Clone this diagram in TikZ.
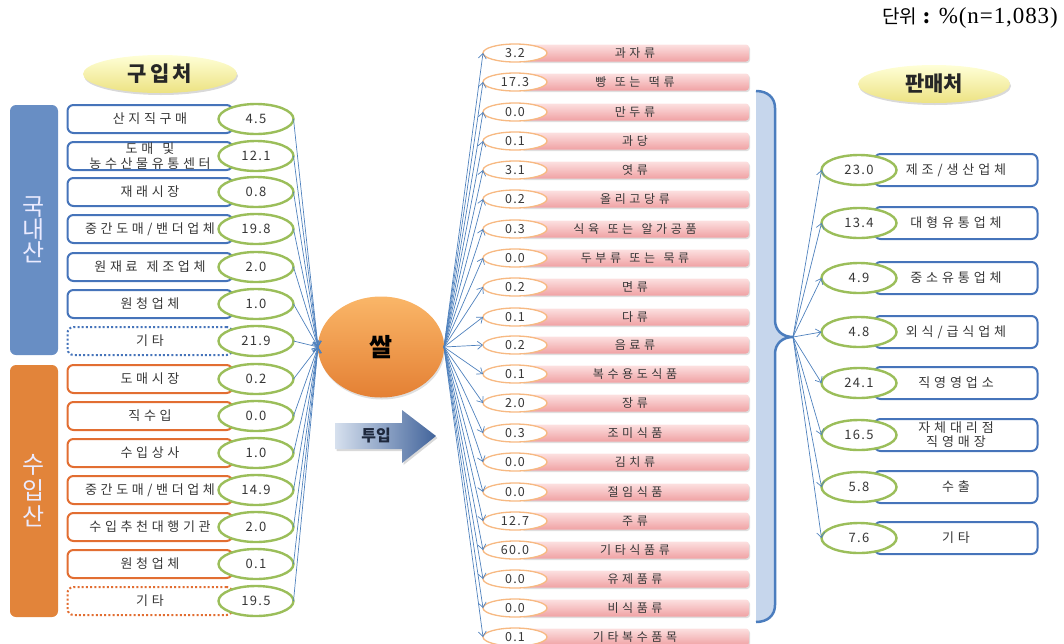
\documentclass[tikz,border=0pt]{standalone}
\usepackage{fontspec}
\setmainfont{Noto Sans CJK KR}
\newfontfamily\krbox[LetterSpace=28]{Noto Sans CJK KR}
\newfontfamily\krmid[LetterSpace=30]{Noto Sans CJK KR}
\newfontfamily\krright[LetterSpace=30]{Noto Sans CJK KR}
\newfontfamily\krnum[LetterSpace=10]{Noto Sans CJK KR}
\newfontfamily\krtitle[LetterSpace=15]{Noto Sans CJK KR}
\newfontfamily\serifen[LetterSpace=4]{Liberation Serif}
\newcommand\ws{\hspace{0.7em}}
\usetikzlibrary{arrows.meta,shapes.geometric,shadows}
\definecolor{barblue}{RGB}{104,142,196}
\definecolor{barorange}{RGB}{226,132,58}
\definecolor{boxblue}{RGB}{70,116,186}
\definecolor{boxorange}{RGB}{226,110,50}
\definecolor{numgreen}{RGB}{155,190,90}
\definecolor{arrblue}{RGB}{79,129,189}
\definecolor{txtgray}{RGB}{55,55,55}
\definecolor{pinktop}{RGB}{252,224,224}
\definecolor{pinkbot}{RGB}{240,162,164}
\definecolor{ellorange}{RGB}{247,185,130}
\definecolor{ricetop}{RGB}{250,182,104}
\definecolor{ricebot}{RGB}{228,128,52}
\definecolor{brfill}{RGB}{198,214,236}
\definecolor{broutline}{RGB}{75,125,190}
\definecolor{ytop}{RGB}{255,255,215}
\definecolor{ybot}{RGB}{236,226,130}
\definecolor{arrlight}{RGB}{214,224,238}
\definecolor{arrdark}{RGB}{66,100,155}
\begin{document}
\begin{tikzpicture}[x=1pt,y=-1pt,
  bluebox/.style={draw=boxblue, line width=2pt, rounded corners=6pt, fill=white,
    minimum width=165pt, minimum height=28pt, inner sep=0pt, align=center,
    font=\krbox\fontsize{13}{14.5}\selectfont, text=txtgray},
  orangebox/.style={bluebox, draw=boxorange},
  dotbox/.style={dash pattern=on 2pt off 2.2pt},
  gnum/.style={ellipse, draw=numgreen, line width=2.4pt, fill=white,
    minimum width=75pt, minimum height=30pt, inner sep=0pt, outer sep=0pt,
    font=\krnum\fontsize{13}{14}\selectfont, text=txtgray},
  pinkbar/.style={rectangle, rounded corners=3pt, minimum width=228pt, minimum height=17pt,
    top color=pinktop, bottom color=pinkbot, inner sep=0pt,
    drop shadow={opacity=0.25, shadow xshift=1pt, shadow yshift=-1.5pt},
    font=\krmid\fontsize{12}{13}\selectfont, text=txtgray},
  onum/.style={ellipse, draw=ellorange, line width=1.3pt, fill=white,
    minimum width=64pt, minimum height=18pt, inner sep=0pt, outer sep=0pt,
    font=\krnum\fontsize{12.5}{13}\selectfont, text=txtgray},
  rbox/.style={draw=boxblue, line width=2pt, rounded corners=6pt, fill=white,
    minimum width=163pt, minimum height=32pt, inner sep=0pt, align=center,
    font=\krright\fontsize{13}{14}\selectfont, text=txtgray},
  titleell/.style={ellipse, minimum width=154pt, minimum height=38pt, inner sep=0pt,
    top color=ytop, bottom color=ybot,
    drop shadow={opacity=0.3, shadow xshift=1pt, shadow yshift=-2pt},
    text=black!85},
  vbar/.style={rounded corners=6pt, minimum width=48pt, inner sep=0pt, align=center,
    text=white!92!blue, font=\fontsize{24}{23}\selectfont},
  arr/.style={draw=arrblue, line width=0.7pt, -{Straight Barb[length=5pt,width=8pt]}}
]
\useasboundingbox (0,0) rectangle (1064,643);

% unit label
\node[anchor=east, inner sep=0pt] (unit) at (1058,18)
  {\fontsize{19}{20}\selectfont 단위\hspace{6pt}\textbf{:}\hspace{9pt}{\serifen\fontsize{23}{24}\selectfont\%(n=1,083)}};

% titles
\node[titleell, font=\krtitle\bfseries\fontsize{21}{22}\selectfont] (t1) at (160,74) {구입처};
\node[titleell, minimum width=152pt, font=\bfseries\fontsize{21}{22}\selectfont] (t2) at (934,84) {판매처};

% side bars
\node[vbar, fill=barblue, minimum height=250pt] (dom) at (34,230) {국\\내\\산};
\node[vbar, fill=barorange, minimum height=252pt, font=\fontsize{24}{26}\selectfont] (imp) at (34,491) {수\\입\\산};

% left boxes
\foreach \y/\lab/\num [count=\i] in {119/{산지직구매}/4.5, 156/{도매\ws 및\\농수산물유통센터}/12.1,
   192/{재래시장}/0.8, 229/{중간도매/밴더업체}/19.8, 267/{원재료\ws 제조업체}/2.0, 304/{원청업체}/1.0}{
  \node[bluebox] (b\i) at (150,\y) {\lab};
  \node[gnum] (n\i) at (256,\y) {\num};
}
\node[bluebox, dotbox] (b7) at (150,341) {기타};
\node[gnum] (n7) at (256,341) {21.9};
\foreach \y/\lab/\num [count=\j] in {379/{도매시장}/0.2, 416/{직수입}/0.0, 453/{수입상사}/1.0,
   490/{중간도매/밴더업체}/14.9, 527/{수입추천대행기관}/2.0, 564/{원청업체}/0.1}{
  \pgfmathtruncatemacro{\i}{\j+7}
  \node[orangebox] (b\i) at (150,\y) {\lab};
  \node[gnum] (n\i) at (256,\y) {\num};
}
\node[orangebox, dotbox] (b14) at (150,601) {기타};
\node[gnum] (n14) at (256,601) {19.5};

% rice
\node[ellipse, minimum width=126pt, minimum height=101pt, inner sep=0pt, outer sep=0pt,
  top color=ricetop, bottom color=ricebot,
  drop shadow={opacity=0.25, shadow xshift=1pt, shadow yshift=-2pt},
  font=\bfseries\fontsize{25}{26}\selectfont, text=black] (rice) at (381,347) {쌀};

\foreach \i in {1,...,14}{ \draw[arr] (n\i.east) -- (rice.west); }

% input arrow
\shade[left color=arrlight, right color=arrdark,
  drop shadow={opacity=0.3, shadow xshift=1.5pt, shadow yshift=-2pt}]
  (335,423) -- (402,423) -- (402,410) -- (436,436) -- (402,463) -- (402,449) -- (335,449) -- cycle;
\node[font=\bfseries\fontsize{16}{17}\selectfont, text={rgb,255:red,30;green,40;blue,60}] (tuip) at (376,436) {투입};

% middle column
\foreach \y/\num/\lab [count=\i] in {53/3.2/{과자류}, 82/17.3/{빵\ws 또는\ws 떡류}, 112/0.0/{만두류},
  141/0.1/{과당}, 170/3.1/{엿류}, 199/0.2/{올리고당류}, 229/0.3/{식육\ws 또는\ws 알가공품},
  258/0.0/{두부류\ws 또는\ws 묵류}, 287/0.2/{면류}, 317/0.1/{다류}, 345/0.2/{음료류},
  374/0.1/{복수용도식품}, 403/2.0/{장류}, 433/0.3/{조미식품}, 462/0.0/{김치류},
  492/0.0/{절임식품}, 521/12.7/{주류}, 550/60.0/{기타식품류}, 579/0.0/{유제품류},
  608/0.0/{비식품류}, 637/0.1/{기타복수품목}}{
  \node[pinkbar] (p\i) at (635,\y) {\lab};
  \node[onum] (m\i) at (515,\y) {\num};
  \draw[arr] (rice.east) -- (m\i.west);
}

% bracket
\fill[brfill] (756,91) .. controls (768,91) and (775,98) .. (775,108)
  -- (775,320) .. controls (775,330) and (782,337) .. (793,337)
  .. controls (782,337) and (775,344) .. (775,354)
  -- (775,605) .. controls (775,615) and (768,622) .. (756,622) -- cycle;
\draw[broutline, line width=2.5pt] (756,91) .. controls (768,91) and (775,98) .. (775,108)
  -- (775,320) .. controls (775,330) and (782,337) .. (793,337)
  .. controls (782,337) and (775,344) .. (775,354)
  -- (775,605) .. controls (775,615) and (768,622) .. (756,622);
\coordinate (tip) at (793,337);

% right column
\foreach \y/\num/\lab [count=\i] in {170/23.0/{제조/생산업체}, 223/13.4/{대형유통업체},
  278/4.9/{중소유통업체}, 332/4.8/{외식/급식업체}, 383/24.1/{직영영업소},
  435/16.5/{자체대리점\\직영매장}, 487/5.8/{수출}, 538/7.6/{기타}}{
  \node[rbox] (r\i) at (956,\y) {\lab};
  \node[gnum] (s\i) at (859,\y) {\num};
  \draw[arr] (tip) -- (s\i.west);
}
\end{tikzpicture}
\end{document}
